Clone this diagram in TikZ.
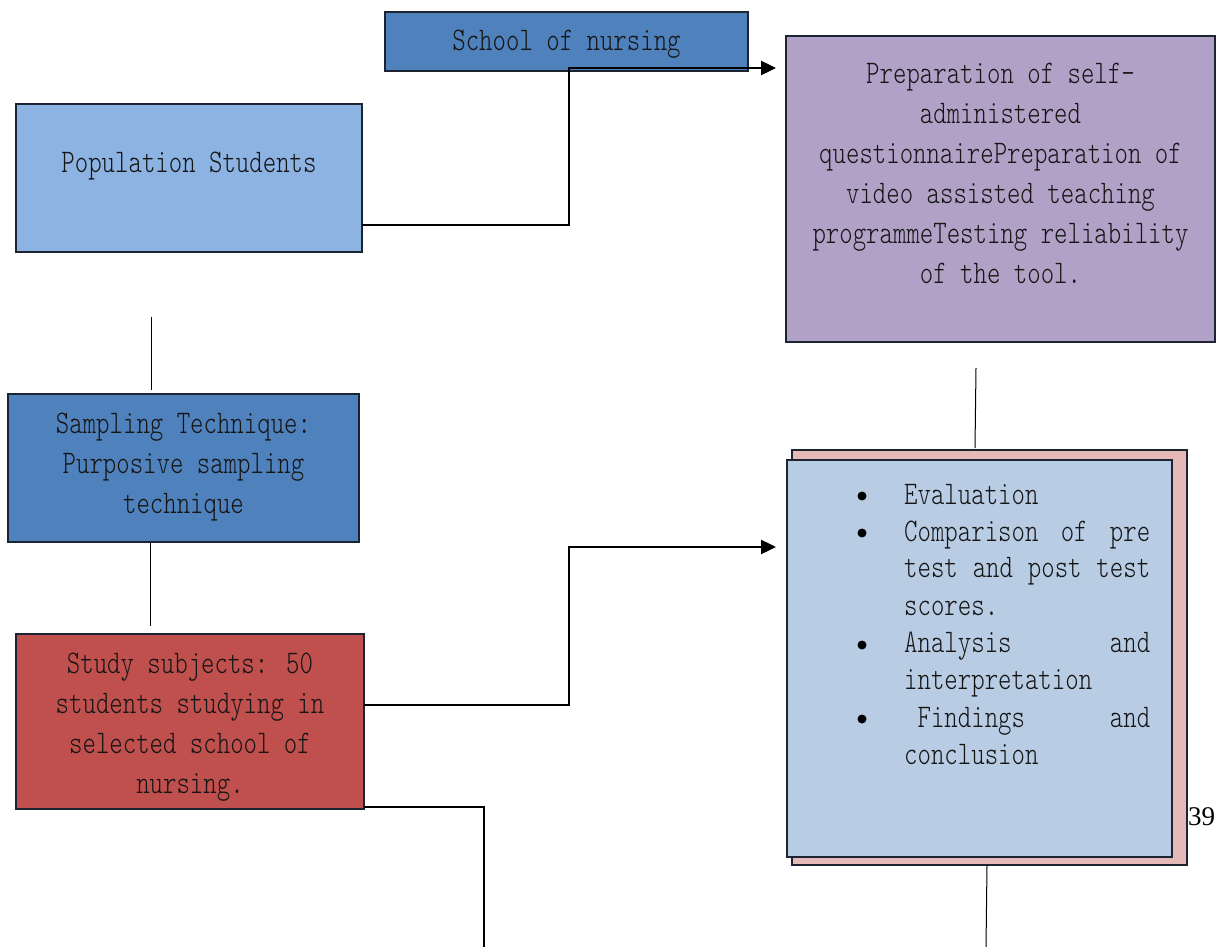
\documentclass[tikz,border=0pt]{standalone}
\usepackage{fontspec}
\newfontfamily\monof{lmmonolt10-regular.otf}[FakeStretch=0.775]
\newfontfamily\numf{Liberation Serif}
\usetikzlibrary{arrows.meta,calc}
\definecolor{bord}{HTML}{1C2331}
\definecolor{txtc}{HTML}{151515}
\definecolor{blueA}{HTML}{4F81BD}
\definecolor{blueL}{HTML}{8DB3E2}
\definecolor{redA}{HTML}{C0504D}
\definecolor{purA}{HTML}{B2A1C7}
\definecolor{pinkA}{HTML}{E5B9B7}
\definecolor{blueP}{HTML}{B8CCE4}
\tikzset{
  box/.style={draw=bord, line width=2.4pt, inner sep=0pt, outer sep=0pt, anchor=north west},
  txt/.style={font=\monof\fontsize{33}{40}\selectfont, text=txtc, inner sep=0pt, align=center, anchor=north},
  itm/.style={font=\monof\fontsize{33}{40}\selectfont, text=txtc, inner sep=0pt, anchor=base west},
  conn/.style={line width=2.4pt, draw=black},
  arr/.style={conn, -{Triangle[length=15pt,width=14pt]}},
  thinline/.style={line width=1pt, draw=black},
  bul/.style={circle, fill=black, inner sep=0pt, minimum size=9pt},
}
\begin{document}
\begin{tikzpicture}[x=1pt,y=-1pt]
\useasboundingbox (0,0) rectangle (1216,947);
% boxes
\node[box, fill=blueA, minimum width=363pt, minimum height=59pt] (school) at (385,12) {};
\node[box, fill=blueL, minimum width=346pt, minimum height=148pt] (pop) at (16,104) {};
\node[box, fill=blueA, minimum width=351pt, minimum height=148pt] (samp) at (8,394) {};
\node[box, fill=redA, minimum width=348pt, minimum height=175pt] (study) at (16,634) {};
\node[box, fill=purA, minimum width=429pt, minimum height=306pt] (prep) at (786,36) {};
\node[box, fill=pinkA, minimum width=395pt, minimum height=415pt] (shadow) at (792,450) {};
\node[box, fill=blueP, minimum width=385pt, minimum height=397pt] (eval) at (787,460) {};
% connectors
\draw[arr] ([yshift=-47pt]pop.east) -| (569,68) -- ($(prep.north west)+(-10,32)$);
\draw[arr] ([yshift=16.5pt]study.east) -| (569,547) -- ($(eval.north west)+(-11,87)$);
\coordinate (c3end) at (484,947);
\draw[conn] ([yshift=2pt]study.south east) -| (c3end);
\coordinate (t1a) at (151,317); \coordinate (t1b) at (151,390);
\coordinate (t2a) at (150,543); \coordinate (t2b) at (150,626);
\coordinate (t3a) at (976,368); \coordinate (t3b) at (975,448);
\coordinate (t4a) at (987,866); \coordinate (t4b) at (986,947);
\draw[thinline] (t1a) -- (t1b);
\draw[thinline] (t2a) -- (t2b);
\draw[thinline] (t3a) -- (t3b);
\draw[thinline] (t4a) -- (t4b);
% texts
\node[txt] (schoolt) at (566.5,22) {\strut School of nursing};
\node[txt] (popt) at (189,144) {\strut Population Students};
\node[txt] (sampt) at (183.5,405) {\strut Sampling Technique:\\Purposive sampling\\technique};
\node[txt] (studyt) at (190,645) {\strut Study subjects: 50\\students studying in\\selected school of\\nursing.};
\node[txt] (prept) at (1000.5,55) {\strut Preparation of self-\\administered\\questionnairePreparation of\\video assisted teaching\\programmeTesting reliability\\of the tool.};
% bullet list
\node[bul] (b1) at (862,496) {};
\node[bul] (b2) at (862,533) {};
\node[bul] (b3) at (862,645) {};
\node[bul] (b4) at (862,719) {};
\node[itm] (i1) at (904,504) {Evaluation};
\node[itm] (i2a) at (904,541) {\hbox to 246pt{Comparison\hfill of\hfill pre}};
\node[itm] (i2b) at (904,577) {\hbox to 246pt{test\hfill and\hfill post\hfill test}};
\node[itm] (i2c) at (904,615) {scores.};
\node[itm] (i3a) at (904,652) {\hbox to 246pt{Analysis\hfill and}};
\node[itm] (i3b) at (904,689) {interpretation};
\node[itm] (i4a) at (904,727) {\hbox to 246pt{\ Findings\hfill and}};
\node[itm] (i4b) at (904,764) {conclusion};
% page number
\node[font=\numf\fontsize{27}{30}\selectfont, inner sep=0pt, anchor=base west] (pnum) at (1188,825) {39};
\end{tikzpicture}
\end{document}
